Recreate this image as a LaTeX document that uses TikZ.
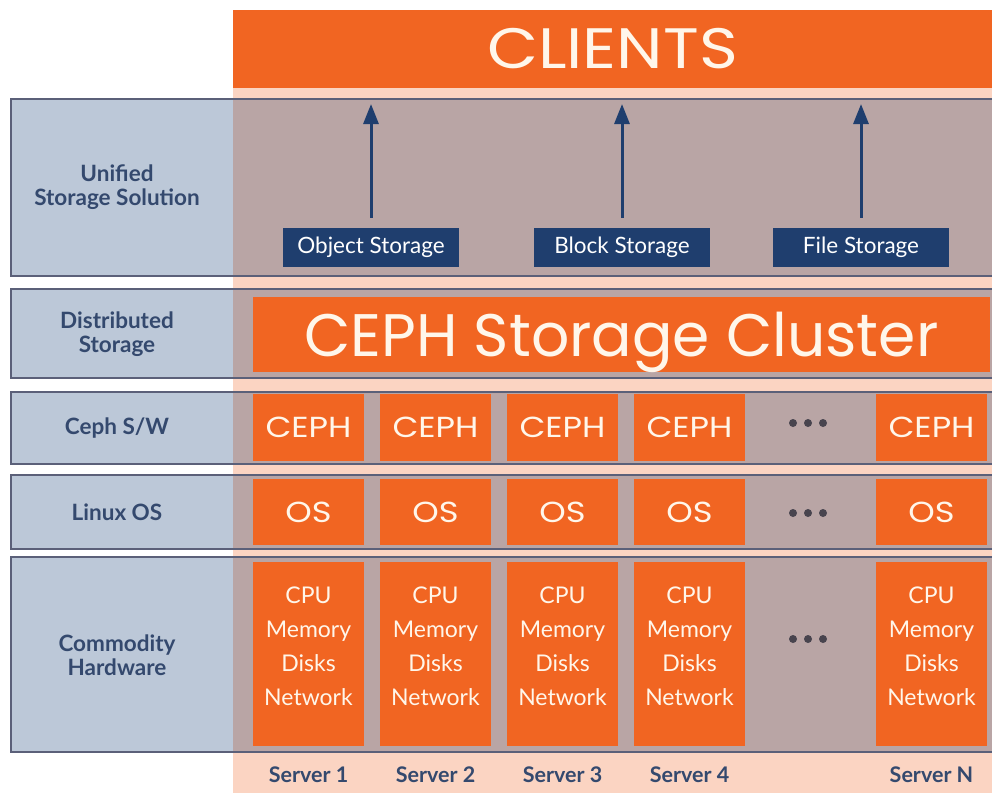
\documentclass[tikz,border=0pt]{standalone}
\usepackage{fontspec}
\setmainfont{Lato}
\newfontfamily\geo{Poppins}
\newfontfamily\geow{Poppins}[FakeStretch=1.16]
\usetikzlibrary{arrows.meta}
\definecolor{corange}{HTML}{F16522}
\definecolor{cpeach}{HTML}{FBD4C2}
\definecolor{cleft}{HTML}{BCC8D8}
\definecolor{cright}{HTML}{B9A5A5}
\definecolor{cborder}{HTML}{5B6079}
\definecolor{cnavy}{HTML}{1F3E6E}
\definecolor{ctext}{HTML}{34496E}
\definecolor{cdots}{HTML}{48444E}
\definecolor{ccream}{HTML}{FFF6EA}
\tikzset{
  obox/.style={fill=corange, inner sep=0pt, text=ccream, align=center},
  srvbox/.style={obox, minimum width=111pt},
  hwtext/.style={text=ccream, align=center, inner sep=0pt, font=\fontsize{23}{34}\selectfont},
  stbox/.style={fill=cnavy, text=white, inner sep=0pt, minimum width=176pt, minimum height=39pt, font=\fontsize{22.5}{24}\selectfont},
  lbl/.style={text=ctext, align=center, font=\fontsize{22.5}{24}\selectfont\bfseries},
  srvlbl/.style={text=ctext, font=\fontsize{21.5}{24}\selectfont\bfseries},
  upar/.style={draw=cnavy, line width=3pt, -{Triangle[length=20pt,width=15pt]}},
  dotc/.style={fill=cdots}
}
\begin{document}
\begin{tikzpicture}[x=1pt,y=-1pt]
\useasboundingbox (0,0) rectangle (992,793);
\fill[white] (0,0) rectangle (992,793);
\fill[cpeach] (233,88) rectangle (992,793);
\node[obox, minimum width=759pt, minimum height=78pt, font=\fontsize{57}{60}\geow] (clients) at (612.5,49) {CLIENTS};
\foreach \t/\b in {99/276, 289/378, 392/464, 475/549, 557/752} {
  \fill[cleft] (11,\t) rectangle (233,\b);
  \fill[cright] (233,\t) rectangle (996,\b);
  \draw[cborder, line width=1.5pt] (11,\t) rectangle (996,\b);
}
% left labels
\node[lbl] (l1) at (117,187) {Unified\\Storage Solution};
\node[lbl] (l2) at (117,334) {Distributed\\Storage};
\node[lbl] (l3) at (117,428) {Ceph S/W};
\node[lbl] (l4) at (117,512) {Linux OS};
\node[lbl] (l5) at (117,655) {Commodity\\Hardware};
% storage
\node[stbox] (obj) at (371,247.5) {Object Storage};
\node[stbox] (blk) at (622,247.5) {Block Storage};
\node[stbox] (fil) at (861,247.5) {File Storage};
\coordinate (a1) at (371,104);
\coordinate (a2) at (622,104);
\coordinate (a3) at (861,104);
\draw[upar] ([yshift=10pt]obj.north) -- (a1);
\draw[upar] ([yshift=10pt]blk.north) -- (a2);
\draw[upar] ([yshift=10pt]fil.north) -- (a3);
% cluster
\node[obox, minimum width=737pt, minimum height=75pt, text depth=0pt, font=\fontsize{60}{64}\geo] (cluster) at (621.5,334.5) {CEPH Storage Cluster};
% servers
\foreach \i/\x/\s in {1/308.5/Server 1, 2/435.5/Server 2, 3/562.5/Server 3, 4/689.5/Server 4, N/931.5/Server N} {
  \node[srvbox, minimum height=67pt, font=\fontsize{29}{30}\geow] (ceph\i) at (\x,427.5) {CEPH};
  \node[srvbox, minimum height=66pt, font=\fontsize{29}{30}\geow] (os\i) at (\x,512) {OS};
  \node[srvbox, minimum height=184pt] (hw\i) at (\x,654) {};
  \node[hwtext] (hwt\i) at (\x,646) {CPU\\Memory\\Disks\\Network};
  \node[srvlbl] (sl\i) at (\x,775) {\s};
}
% dots
\foreach \y in {423, 513, 639} {
  \fill[dotc] (793,\y) circle (4pt);
  \fill[dotc] (808,\y) circle (4pt);
  \fill[dotc] (823,\y) circle (4pt);
}
\end{tikzpicture}
\end{document}
